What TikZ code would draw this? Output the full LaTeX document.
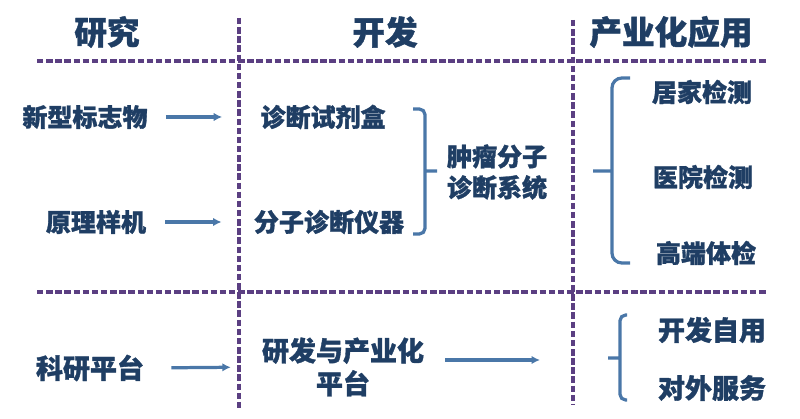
\documentclass[tikz,border=0pt]{standalone}
\usepackage{fontspec}
\setmainfont{Noto Sans CJK SC}[BoldFeatures={FakeBold=1.2}]
\usepackage{xcolor}
\usepackage{tikz}
\usetikzlibrary{arrows.meta}
\definecolor{navy}{HTML}{1F3E64}
\definecolor{steel}{HTML}{4A77A8}
\definecolor{grape}{HTML}{5B3F82}

\begin{document}
\begin{tikzpicture}[x=0.025cm,y=-0.025cm,
    head/.style={font=\fontsize{23.2}{26}\selectfont\bfseries, text=navy, inner sep=0pt},
    item/.style={font=\fontsize{17.8}{22}\selectfont\bfseries, text=navy, inner sep=0pt, align=center},
    big/.style={font=\fontsize{19.2}{23.5}\selectfont\bfseries, text=navy, inner sep=0pt, align=center},
    sep/.style={grape, line width=2.3pt, dash pattern=on 4.6pt off 1.9pt},
    arr/.style={steel, line width=2.3pt, -{Latex[length=6pt,width=6pt]}},
    brace/.style={steel, line width=2.3pt, rounded corners=4pt}]
            \useasboundingbox (0,0) rectangle (800,419);

            \draw[sep] (37,61) -- (768,61);
            \draw[sep] (37,292) -- (768,292);
            \draw[sep] (239,18) -- (239,408);
            \draw[sep] (573,20) -- (573,405);

            \node [head] (H1) at (107,32) {研究};
            \node [head] (H2) at (385,32) {开发};
            \node [head] (H3) at (671,32) {产业化应用};

            \node [item] (A) at (85,117) {新型标志物};
            \node [item] (B) at (96,222) {原理样机};
            \node [item] (A1) at (323,117) {诊断试剂盒};
            \node [item] (B1) at (329,222) {分子诊断仪器};
            \node [item] (S) at (497,172) {肿瘤分子\\诊断系统};
            \draw[arr, shorten <=12.8pt, shorten >=27pt] (A.east) -- (A1.west);
            \draw[arr, shorten <=13.5pt, shorten >=22.8pt] (B.east) -- (B1.west);
            \draw[brace] (413,109) -- (425,109) -- (425,234) -- (413,234) (425,171) -- (437,171);

            \node [item] (U1) at (702,92) {居家检测};
            \node [item] (U2) at (703,177) {医院检测};
            \node [item] (U3) at (706,253) {高端体检};
            \draw[brace, rounded corners=7pt] (630,78) -- (612,78) -- (612,263) -- (630,263) (612,171) -- (593,171);

            \node [big] (C) at (90,368) {科研平台};
            \node [big] (C1) at (343,367) {研发与产业化\\平台};
            \coordinate (E) at (540,360);
            \draw[arr, shorten <=19.2pt, shorten >=22pt] (C.east) -- (C1.west);
            \draw[arr, shorten <=15pt] (C1.east |- E) -- (E);

            \node [big] (V1) at (712,330) {开发自用};
            \node [big] (V2) at (712,388) {对外服务};
            \draw[brace] (627,315) -- (620,315) -- (620,400) -- (627,400) (620,358) -- (608,358);

        \end{tikzpicture}
\end{document}
